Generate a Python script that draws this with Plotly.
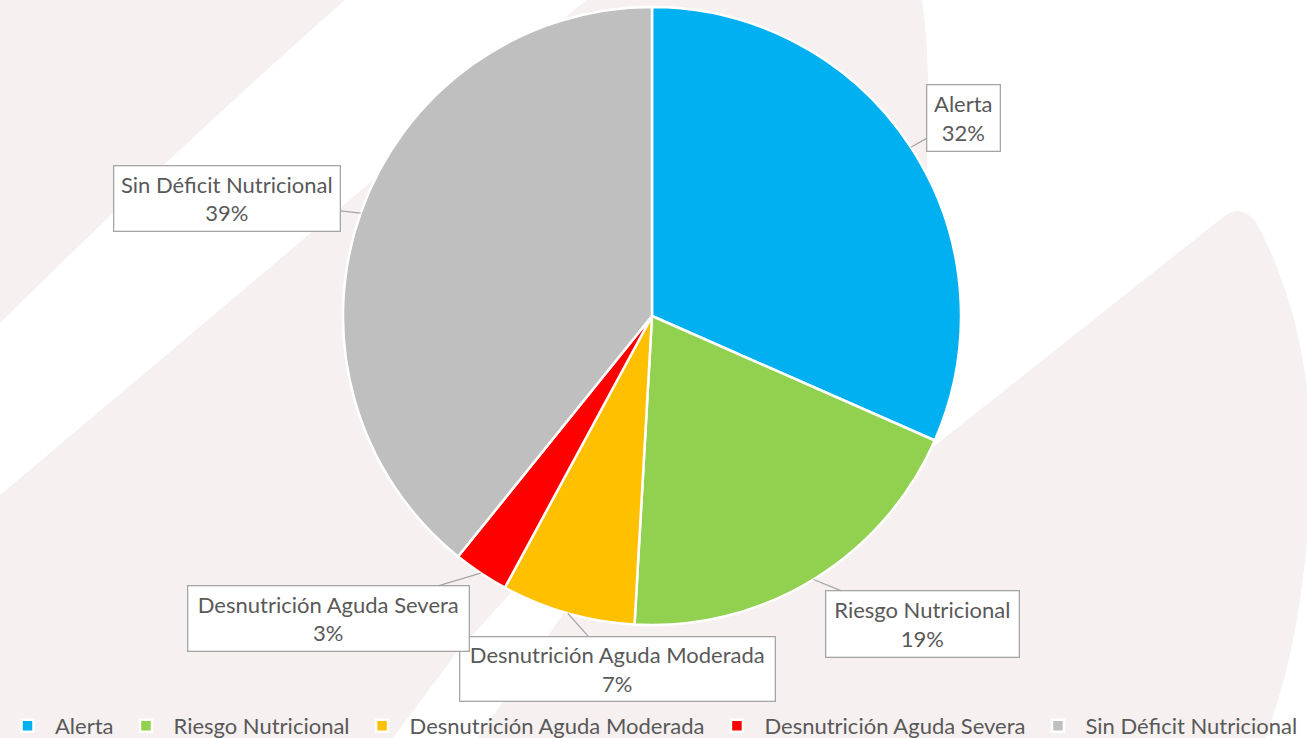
import math
import plotly.graph_objects as go

# ---------------- data ----------------
labels = ["Alerta", "Riesgo Nutricional", "Desnutrición Aguda Moderada",
          "Desnutrición Aguda Severa", "Sin Déficit Nutricional"]
values = [31.6, 19.3, 7.0, 2.9, 39.2]
colors = ["#00B0F0", "#92D050", "#FFC000", "#FF0000", "#BFBFBF"]

# ---------------- layout geometry (pixels) ----------------
W, H = 1307, 738
CX, CY, R = 652, 316, 309
# label box centre and size (px) per slice
box_centers = [(963.5, 118), (922.5, 624), (617, 668.5), (328.5, 618.5), (227, 198.5)]
box_sizes = [(75, 68), (195, 68), (317, 66), (283, 67), (228, 67)]

FONT = "Lato"
FS = 22
TXT = "#595959"
PINK = "#F6F0F0"


def P(x, y):
    return x / W, 1 - y / H


def path(cmds):
    out = []
    for c in cmds:
        op, pts = c[0], c[1:]
        s = op
        for (x, y) in pts:
            X, Y = P(x, y)
            s += f" {X:.5f},{Y:.5f}"
        out.append(s)
    return " ".join(out) + " Z"


fig = go.Figure()
fig.add_trace(go.Pie(
    labels=labels, values=values, sort=False, direction="clockwise", rotation=0,
    marker=dict(colors=colors, line=dict(color="white", width=2.5)),
    textinfo="none", hoverinfo="label+percent",
    domain=dict(x=[(CX - R) / W, (CX + R) / W], y=[1 - (CY + R) / H, 1 - (CY - R) / H]),
))

# background watermark shapes
shapes = [
    dict(type="path", xref="paper", yref="paper", layer="below", line=dict(width=0), fillcolor=PINK,
         path=path([("M", (0, 0)), ("L", (345, 0)), ("Q", (175, 150), (0, 323))])),
    dict(type="path", xref="paper", yref="paper", layer="below", line=dict(width=0), fillcolor=PINK,
         path=path([("M", (0, 495)), ("Q", (220, 310), (586, 0)), ("L", (922, 0)),
                    ("Q", (932, 70), (926, 180)), ("L", (933, 447)), ("L", (1222, 218)),
                    ("Q", (1240, 202), (1256, 222)), ("Q", (1330, 360), (1305, 560)),
                    ("Q", (1295, 660), (1265, 738)), ("L", (0, 738))])),
    dict(type="path", xref="paper", yref="paper", layer="below", line=dict(width=0), fillcolor="white",
         path=path([("M", (393, 738)), ("L", (455, 655)), ("L", (540, 560)), ("L", (600, 560)),
                    ("L", (478, 738))])),
]

# callout labels
total = sum(values)
annotations = []
cum = 0.0
for i, (lab, v) in enumerate(zip(labels, values)):
    mid = (cum + v / 2) / total
    cum += v
    th = 2 * math.pi * mid
    tx, ty = CX + R * math.sin(th), CY - R * math.cos(th)
    bx, by = box_centers[i]
    bw, bh = box_sizes[i]
    X, Y = P(tx, ty)
    annotations.append(dict(
        x=X, y=Y, xref="paper", yref="paper",
        ax=bx - tx, ay=by - ty, axref="pixel", ayref="pixel",
        text=f"{lab}<br>{round(v / total * 100)}%",
        showarrow=True, arrowhead=0, arrowwidth=1.2, arrowcolor="#A6A6A6",
        bordercolor="#A6A6A6", borderwidth=1.3, borderpad=0, bgcolor="white",
        width=bw - 3, height=bh - 3, align="center", valign="middle",
        font=dict(family=FONT, size=FS, color=TXT),
    ))

fig.update_layout(
    width=W, height=H, autosize=False,
    margin=dict(l=0, r=0, t=0, b=0, autoexpand=False),
    paper_bgcolor="white", plot_bgcolor="white",
    shapes=shapes, annotations=annotations,
    showlegend=True,
    legend=dict(orientation="h", x=0.0, xanchor="left", y=1 - 726 / H, yanchor="middle",
                font=dict(family=FONT, size=FS, color=TXT), bgcolor="rgba(0,0,0,0)",
                itemwidth=45, traceorder="normal"),
)

fig.write_html("out.html", config={"displayModeBar": False},
               post_script="document.body.style.margin='0';")
